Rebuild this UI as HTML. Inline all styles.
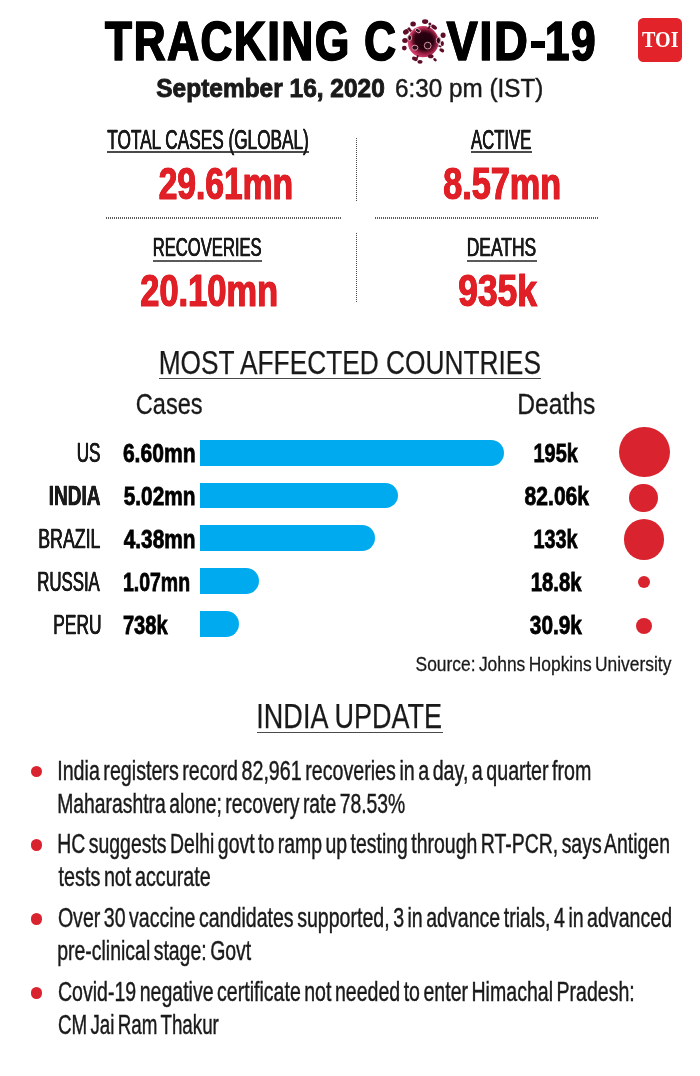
<!DOCTYPE html>
<html><head><meta charset="utf-8"><title>Tracking Covid-19</title>
<style>
html,body{margin:0;padding:0;background:#fff;}
body{width:700px;height:1076px;position:relative;overflow:hidden;will-change:transform;font-family:"Liberation Sans",sans-serif;}
.t{position:absolute;white-space:pre;line-height:1;transform-origin:0 0;font-family:"Liberation Sans",sans-serif;}
.u{position:absolute;height:2px;background:#4a4a4a;}
.bar{position:absolute;left:200px;height:25.8px;background:#00aaee;border-radius:0 12.9px 12.9px 0;}
.c{position:absolute;border-radius:50%;background:#d9232e;}
.hd{position:absolute;height:2.2px;background:repeating-linear-gradient(90deg,#5a5a5a 0,#5a5a5a 1px,transparent 1px,transparent 2px);}
.vd{position:absolute;width:1.3px;background:repeating-linear-gradient(180deg,#4a4a4a 0,#4a4a4a 1px,transparent 1px,transparent 2px);}
.toi{position:absolute;left:638.3px;top:17.5px;width:44px;height:44px;border-radius:5.5px;background:#e2232a;}
</style></head><body>
<!--GRAPHICS-->
<div style="position:absolute;left:530.7px;top:41px;width:14.7px;height:6.6px;background:#000"></div>
<div class="toi"></div>
<span class="t" style="left:641.6px;top:28.2px;font-family:'Liberation Serif',serif;font-weight:bold;font-size:23.5px;color:#fff;transform:scaleX(0.855)">TOI</span>

<div class="u" style="left:106.5px;top:151.3px;width:202px"></div>
<div class="u" style="left:470.5px;top:151.2px;width:61.5px"></div>
<div class="u" style="left:153.3px;top:259.9px;width:108.7px;background:#5a5a5a"></div>
<div class="u" style="left:467px;top:259.9px;width:70px;background:#5a5a5a"></div>
<div class="hd" style="left:106px;top:216.7px;width:235.7px"></div>
<div class="hd" style="left:374.6px;top:216.7px;width:223px"></div>
<div class="vd" style="left:355.7px;top:137.5px;height:64px"></div>
<div class="vd" style="left:355.7px;top:232.8px;height:69.5px"></div>

<div class="u" style="left:159px;top:377.7px;width:382px;height:1.6px"></div>
<div class="bar" style="top:440px;width:304.3px"></div>
<div class="bar" style="top:482.7px;width:197.6px"></div>
<div class="bar" style="top:525.4px;width:175px"></div>
<div class="bar" style="top:568.1px;width:58.5px"></div>
<div class="bar" style="top:610.8px;width:39px"></div>
<div class="c" style="left:619.4px;top:426.7px;width:50.6px;height:50.6px"></div>
<div class="c" style="left:629.2px;top:483.7px;width:28.6px;height:28.6px"></div>
<div class="c" style="left:623.5px;top:519.3px;width:40.8px;height:40.8px"></div>
<div class="c" style="left:637.8px;top:575.6px;width:12.6px;height:12.6px"></div>
<div class="c" style="left:636.3px;top:618.4px;width:16px;height:16px"></div>

<div class="u" style="left:256.5px;top:731.7px;width:186.4px;height:1.6px"></div>
<div class="c" style="left:31.2px;top:765.9px;width:11.2px;height:11.2px"></div>
<div class="c" style="left:31.2px;top:839.4px;width:11.2px;height:11.2px"></div>
<div class="c" style="left:31.2px;top:913.4px;width:11.2px;height:11.2px"></div>
<div class="c" style="left:31.2px;top:987.4px;width:11.2px;height:11.2px"></div>
<svg style="position:absolute;left:393px;top:10px" width="60" height="62" viewBox="393 10 60 62">
<defs>
<radialGradient id="vg" cx="0.56" cy="0.5" r="0.56">
<stop offset="0" stop-color="#1c040b"/><stop offset="0.4" stop-color="#3a0917"/><stop offset="0.66" stop-color="#8f1a3e"/><stop offset="0.86" stop-color="#c93560"/><stop offset="0.96" stop-color="#d9577f"/><stop offset="1" stop-color="#e58aa6" stop-opacity="0.5"/>
</radialGradient>
<filter id="vb2" x="-30%" y="-30%" width="160%" height="160%"><feGaussianBlur stdDeviation="1.6"/></filter>
<filter id="vb" x="-20%" y="-20%" width="140%" height="140%"><feGaussianBlur stdDeviation="0.55"/></filter>
</defs>
<g filter="url(#vb)">
<circle cx="423" cy="41.7" r="15.6" fill="url(#vg)"/>
<path d="M414 33 Q421 29 430 32 Q437 37 434 44 Q432 50 424 51 Q417 50 414 44 Q411 38 414 33Z" fill="#22060e" opacity="0.8" filter="url(#vb2)"/>
<g fill="#5e0d27">
<ellipse cx="413.1" cy="24.1" rx="2.8" ry="2.5"/>
<ellipse cx="425.1" cy="21.6" rx="3.1" ry="2.3"/>
<circle cx="429.9" cy="23.9" r="1.5"/>
<ellipse cx="434.1" cy="27.1" rx="3.2" ry="1.9" transform="rotate(35 434.1 27.1)"/>
<ellipse cx="405.9" cy="31.9" rx="3" ry="2.5" transform="rotate(-30 405.9 31.9)"/>
<ellipse cx="405" cy="40.4" rx="2.8" ry="2.5"/>
<circle cx="404.3" cy="48.1" r="2.4"/>
<ellipse cx="443.1" cy="35.3" rx="2.5" ry="2.7"/>
<ellipse cx="442.3" cy="43.4" rx="1.6" ry="2.5"/>
<ellipse cx="441.8" cy="50.3" rx="2.6" ry="1.8" transform="rotate(30 441.8 50.3)"/>
<ellipse cx="414.9" cy="58.8" rx="3" ry="2" transform="rotate(25 414.9 58.8)"/>
<ellipse cx="420" cy="61.8" rx="2.6" ry="1.9"/>
<ellipse cx="430.7" cy="56.3" rx="2.8" ry="2"/>
<ellipse cx="435" cy="59.7" rx="2" ry="1.4" transform="rotate(40 435 59.7)"/>
<rect x="408.4" y="27.3" width="2.4" height="4.6" transform="rotate(-40 409.6 29.6)"/>
<rect x="428.2" y="25.6" width="1.8" height="3.6" transform="rotate(25 429 27.4)"/>
<rect x="438.5" y="45.5" width="3" height="1.6" transform="rotate(20 440 46)"/>
<rect x="416.5" y="55" width="1.8" height="3.4" transform="rotate(20 417 57)"/>
</g>
<g fill="#2e0714" stroke="#e9a3ba" stroke-width="0.9">
<ellipse cx="409.7" cy="37.8" rx="1.9" ry="2.8"/>
<ellipse cx="414.9" cy="47.7" rx="3" ry="2.5"/>
<circle cx="427.7" cy="45.6" r="3.4"/>
<ellipse cx="438.4" cy="40.4" rx="2.1" ry="3.2"/>
<ellipse cx="417.9" cy="30.6" rx="2.8" ry="1.7" transform="rotate(35 417.9 30.6)"/>
</g>
</g>
</svg>

<span class="t" style="left:105px;top:13px;font-size:54.8px;font-weight:bold;color:#000;transform:translate(0.10px,0.55px) scaleX(0.8013);letter-spacing:0.04em;text-shadow:0.9px 0 0 #000,-0.9px 0 0 #000;-webkit-text-stroke:1.7px #000;">TRACKING</span>
<span class="t" style="left:364px;top:13px;font-size:54.8px;font-weight:bold;color:#000;transform:translate(0.20px,0.55px) scaleX(0.8000);letter-spacing:0.04em;text-shadow:0.9px 0 0 #000,-0.9px 0 0 #000;-webkit-text-stroke:1.7px #000;">C</span>
<span class="t" style="left:446px;top:13px;font-size:54.8px;font-weight:bold;color:#000;transform:translate(0.84px,0.55px) scaleX(0.8427);letter-spacing:0.04em;text-shadow:0.9px 0 0 #000,-0.9px 0 0 #000;-webkit-text-stroke:1.7px #000;">VID</span>
<span class="t" style="left:544px;top:13px;font-size:54.8px;font-weight:bold;color:#000;transform:translate(0.90px,0.55px) scaleX(0.8017);letter-spacing:0.04em;text-shadow:0.9px 0 0 #000,-0.9px 0 0 #000;-webkit-text-stroke:1.7px #000;">19</span>
<span class="t" style="left:156px;top:75px;font-size:25.15px;font-weight:bold;color:#1a1a1a;transform:translate(0.30px,0.65px) scaleX(0.9731);-webkit-text-stroke:0.9px #1a1a1a;">September 16, 2020</span>
<span class="t" style="left:395px;top:74px;font-size:26.24px;font-weight:normal;color:#1a1a1a;transform:translate(0.08px,0.88px) scaleX(0.9241);-webkit-text-stroke:0.45px #1a1a1a;">6:30 pm (IST)</span>
<span class="t" style="left:107px;top:125px;font-size:27.54px;font-weight:normal;color:#1a1a1a;transform:translate(0.30px,0.92px) scaleX(0.6252);text-shadow:0.35px 0 0 #1a1a1a,-0.35px 0 0 #1a1a1a;-webkit-text-stroke:0.35px #1a1a1a;">TOTAL CASES (GLOBAL)</span>
<span class="t" style="left:471px;top:125px;font-size:27.54px;font-weight:normal;color:#1a1a1a;transform:translate(0.00px,0.92px) scaleX(0.6061);text-shadow:0.35px 0 0 #1a1a1a,-0.35px 0 0 #1a1a1a;-webkit-text-stroke:0.35px #1a1a1a;">ACTIVE</span>
<span class="t" style="left:152px;top:235px;font-size:25.94px;font-weight:normal;color:#1a1a1a;transform:translate(0.72px,0.02px) scaleX(0.6405);text-shadow:0.35px 0 0 #1a1a1a,-0.35px 0 0 #1a1a1a;-webkit-text-stroke:0.35px #1a1a1a;">RECOVERIES</span>
<span class="t" style="left:466px;top:235px;font-size:25.94px;font-weight:normal;color:#1a1a1a;transform:translate(0.65px,0.02px) scaleX(0.6733);text-shadow:0.35px 0 0 #1a1a1a,-0.35px 0 0 #1a1a1a;-webkit-text-stroke:0.35px #1a1a1a;">DEATHS</span>
<span class="t" style="left:158px;top:161px;font-size:44.91px;font-weight:bold;color:#e01f26;transform:translate(0.65px,0.65px) scaleX(0.7477);text-shadow:0.5px 0 0 #e01f26,-0.5px 0 0 #e01f26;-webkit-text-stroke:1.1px #e01f26;">29.61mn</span>
<span class="t" style="left:443px;top:161px;font-size:44.91px;font-weight:bold;color:#e01f26;transform:translate(0.24px,0.65px) scaleX(0.7616);text-shadow:0.5px 0 0 #e01f26,-0.5px 0 0 #e01f26;-webkit-text-stroke:1.1px #e01f26;">8.57mn</span>
<span class="t" style="left:140px;top:268px;font-size:44.91px;font-weight:bold;color:#e01f26;transform:translate(0.23px,0.85px) scaleX(0.7670);text-shadow:0.5px 0 0 #e01f26,-0.5px 0 0 #e01f26;-webkit-text-stroke:1.1px #e01f26;">20.10mn</span>
<span class="t" style="left:458px;top:268px;font-size:44.91px;font-weight:bold;color:#e01f26;transform:translate(0.21px,0.85px) scaleX(0.7879);text-shadow:0.5px 0 0 #e01f26,-0.5px 0 0 #e01f26;-webkit-text-stroke:1.1px #e01f26;">935k</span>
<span class="t" style="left:158px;top:346px;font-size:33.94px;font-weight:normal;color:#1a1a1a;transform:translate(0.67px,0.38px) scaleX(0.7751);-webkit-text-stroke:0.25px #1a1a1a;">MOST AFFECTED COUNTRIES</span>
<span class="t" style="left:135px;top:389px;font-size:28.78px;font-weight:normal;color:#1a1a1a;transform:translate(0.78px,0.65px) scaleX(0.8200);-webkit-text-stroke:0.3px #1a1a1a;">Cases</span>
<span class="t" style="left:517px;top:389px;font-size:28.78px;font-weight:normal;color:#1a1a1a;transform:translate(0.19px,0.65px) scaleX(0.8568);-webkit-text-stroke:0.3px #1a1a1a;">Deaths</span>
<span class="t" style="left:76px;top:440px;font-size:26.96px;font-weight:normal;color:#1a1a1a;transform:translate(0.73px,0.22px) scaleX(0.6343);text-shadow:0.35px 0 0 #1a1a1a,-0.35px 0 0 #1a1a1a;-webkit-text-stroke:0.35px #1a1a1a;">US</span>
<span class="t" style="left:122px;top:440px;font-size:26.31px;font-weight:bold;color:#000;transform:translate(0.90px,0.20px) scaleX(0.8011);-webkit-text-stroke:0.8px #000;">6.60mn</span>
<span class="t" style="left:533px;top:440px;font-size:26.31px;font-weight:bold;color:#000;transform:translate(0.54px,0.20px) scaleX(0.7569);-webkit-text-stroke:0.8px #000;">195k</span>
<span class="t" style="left:48px;top:483px;font-size:26.96px;font-weight:bold;color:#1a1a1a;transform:translate(0.69px,0.07px) scaleX(0.7056);text-shadow:0.35px 0 0 #1a1a1a,-0.35px 0 0 #1a1a1a;-webkit-text-stroke:0.35px #1a1a1a;">INDIA</span>
<span class="t" style="left:123px;top:483px;font-size:26.31px;font-weight:bold;color:#000;transform:translate(0.70px,0.05px) scaleX(0.7922);-webkit-text-stroke:0.8px #000;">5.02mn</span>
<span class="t" style="left:524px;top:483px;font-size:26.31px;font-weight:bold;color:#000;transform:translate(0.60px,0.05px) scaleX(0.8012);-webkit-text-stroke:0.8px #000;">82.06k</span>
<span class="t" style="left:38px;top:525px;font-size:26.96px;font-weight:normal;color:#1a1a1a;transform:translate(0.28px,0.93px) scaleX(0.6587);text-shadow:0.35px 0 0 #1a1a1a,-0.35px 0 0 #1a1a1a;-webkit-text-stroke:0.35px #1a1a1a;">BRAZIL</span>
<span class="t" style="left:123px;top:525px;font-size:26.31px;font-weight:bold;color:#000;transform:translate(0.70px,0.90px) scaleX(0.7922);-webkit-text-stroke:0.8px #000;">4.38mn</span>
<span class="t" style="left:533px;top:525px;font-size:26.31px;font-weight:bold;color:#000;transform:translate(0.55px,0.90px) scaleX(0.7534);-webkit-text-stroke:0.8px #000;">133k</span>
<span class="t" style="left:37px;top:568px;font-size:26.96px;font-weight:normal;color:#1a1a1a;transform:translate(0.25px,0.78px) scaleX(0.6232);text-shadow:0.35px 0 0 #1a1a1a,-0.35px 0 0 #1a1a1a;-webkit-text-stroke:0.35px #1a1a1a;">RUSSIA</span>
<span class="t" style="left:122px;top:568px;font-size:26.31px;font-weight:bold;color:#000;transform:translate(0.96px,0.75px) scaleX(0.7404);-webkit-text-stroke:0.8px #000;">1.07mn</span>
<span class="t" style="left:530px;top:568px;font-size:26.31px;font-weight:bold;color:#000;transform:translate(0.73px,0.75px) scaleX(0.7708);-webkit-text-stroke:0.8px #000;">18.8k</span>
<span class="t" style="left:53px;top:611px;font-size:26.96px;font-weight:normal;color:#1a1a1a;transform:translate(0.32px,0.62px) scaleX(0.6423);text-shadow:0.35px 0 0 #1a1a1a,-0.35px 0 0 #1a1a1a;-webkit-text-stroke:0.35px #1a1a1a;">PERU</span>
<span class="t" style="left:122px;top:611px;font-size:26.31px;font-weight:bold;color:#000;transform:translate(0.94px,0.60px) scaleX(0.7638);-webkit-text-stroke:0.8px #000;">738k</span>
<span class="t" style="left:529px;top:611px;font-size:26.31px;font-weight:bold;color:#000;transform:translate(0.80px,0.60px) scaleX(0.7924);-webkit-text-stroke:0.8px #000;">30.9k</span>
<span class="t" style="left:415px;top:654px;font-size:20.64px;font-weight:normal;color:#1a1a1a;transform:translate(0.56px,0.15px) scaleX(0.8430);word-spacing:-0.08em;-webkit-text-stroke:0.3px #1a1a1a;">Source: Johns Hopkins University</span>
<span class="t" style="left:256px;top:699px;font-size:34.67px;font-weight:normal;color:#1a1a1a;transform:translate(0.36px,0.27px) scaleX(0.7795);-webkit-text-stroke:0.25px #1a1a1a;">INDIA UPDATE</span>
<span class="t" style="left:57px;top:757px;font-size:27.69px;font-weight:normal;color:#1a1a1a;transform:translate(0.18px,0.48px) scaleX(0.7104);word-spacing:-0.1em;-webkit-text-stroke:0.45px #1a1a1a;">India registers record 82,961 recoveries in a day, a quarter from</span>
<span class="t" style="left:57px;top:790px;font-size:27.69px;font-weight:normal;color:#1a1a1a;transform:translate(0.20px,0.17px) scaleX(0.6984);word-spacing:-0.1em;-webkit-text-stroke:0.45px #1a1a1a;">Maharashtra alone; recovery rate 78.53%</span>
<span class="t" style="left:57px;top:830px;font-size:27.69px;font-weight:normal;color:#1a1a1a;transform:translate(0.20px,0.38px) scaleX(0.7024);word-spacing:-0.1em;-webkit-text-stroke:0.45px #1a1a1a;">HC suggests Delhi govt to ramp up testing through RT-PCR, says Antigen</span>
<span class="t" style="left:58px;top:862px;font-size:27.69px;font-weight:normal;color:#1a1a1a;transform:translate(0.60px,0.77px) scaleX(0.7142);word-spacing:-0.1em;-webkit-text-stroke:0.45px #1a1a1a;">tests not accurate</span>
<span class="t" style="left:57px;top:904px;font-size:27.69px;font-weight:normal;color:#1a1a1a;transform:translate(0.89px,0.07px) scaleX(0.7072);word-spacing:-0.1em;-webkit-text-stroke:0.45px #1a1a1a;">Over 30 vaccine candidates supported, 3 in advance trials, 4 in advanced</span>
<span class="t" style="left:57px;top:936px;font-size:27.69px;font-weight:normal;color:#1a1a1a;transform:translate(0.19px,0.57px) scaleX(0.7029);word-spacing:-0.1em;-webkit-text-stroke:0.45px #1a1a1a;">pre-clinical stage: Govt</span>
<span class="t" style="left:57px;top:978px;font-size:27.69px;font-weight:normal;color:#1a1a1a;transform:translate(0.89px,0.48px) scaleX(0.7064);word-spacing:-0.1em;-webkit-text-stroke:0.45px #1a1a1a;">Covid-19 negative certificate not needed to enter Himachal Pradesh:</span>
<span class="t" style="left:57px;top:1011px;font-size:27.69px;font-weight:normal;color:#1a1a1a;transform:translate(0.92px,0.08px) scaleX(0.6780);word-spacing:-0.1em;-webkit-text-stroke:0.45px #1a1a1a;">CM Jai Ram Thakur</span>
</body></html>
